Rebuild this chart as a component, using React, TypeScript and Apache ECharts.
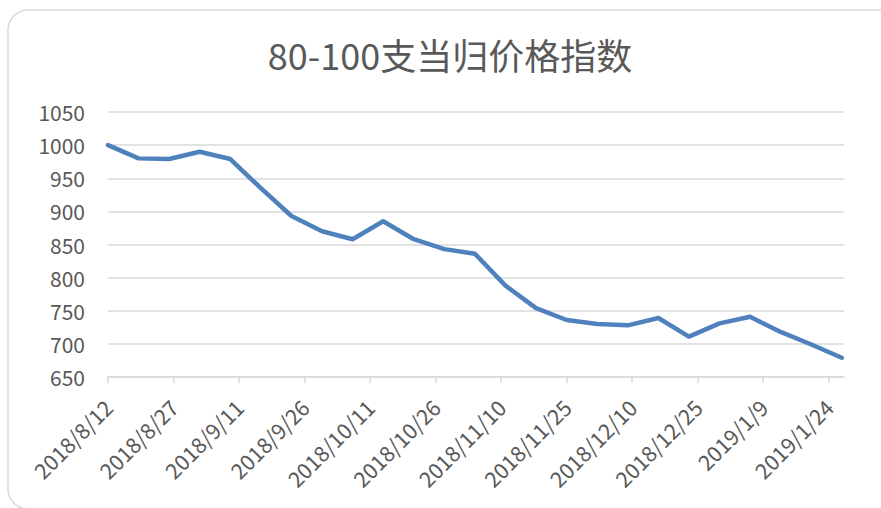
import React, { useEffect, useRef } from "react";
import * as echarts from "echarts";

const TITLE = "80-100支当归价格指数";

// weekly observation dates
const dates = [
  "2018-08-12", "2018-08-19", "2018-08-26", "2018-09-02", "2018-09-09",
  "2018-09-16", "2018-09-23", "2018-09-30", "2018-10-07", "2018-10-14",
  "2018-10-21", "2018-10-28", "2018-11-04", "2018-11-11", "2018-11-18",
  "2018-11-25", "2018-12-02", "2018-12-09", "2018-12-16", "2018-12-23",
  "2018-12-30", "2019-01-06", "2019-01-13", "2019-01-20", "2019-01-27",
];

const values = [
  1000, 980, 979, 990, 979, 935, 893, 870, 858, 885, 858, 843, 836,
  788, 754, 736, 730, 728, 739, 711, 731, 741, 718, 699, 679,
];

// x-axis tick positions (days since 2018/8/12) and their labels
const tickDays = [0, 15, 30, 45, 60, 75, 90, 105, 120, 135, 150, 165];
const tickLabels = [
  "2018/8/12", "2018/8/27", "2018/9/11", "2018/9/26", "2018/10/11", "2018/10/26",
  "2018/11/10", "2018/11/25", "2018/12/10", "2018/12/25", "2019/1/9", "2019/1/24",
];

const DAY = 86400000;
const START = Date.UTC(2018, 7, 12);
const toDays = (s: string) => {
  const [y, m, d] = s.split("-").map(Number);
  return Math.round((Date.UTC(y, m - 1, d) - START) / DAY);
};

const FONT = "'Noto Sans CJK SC', 'Noto Sans', sans-serif";

export default function App() {
  const ref = useRef<HTMLDivElement>(null);
  useEffect(() => {
    if (!ref.current) return;
    const chart = echarts.init(ref.current, undefined, { renderer: "svg" });
    const data = dates.map((d, i) => [toDays(d), values[i]]);
    chart.setOption({
      animation: false,
      backgroundColor: "#ffffff",
      textStyle: { fontFamily: FONT },
      graphic: [
        {
          type: "rect",
          z: -1,
          shape: { x: 8, y: 10, width: 890, height: 499, r: 20 },
          style: { fill: "none", stroke: "#d9d9d9", lineWidth: 1.5 },
        },
        {
          type: "text",
          x: 450,
          y: 54,
          style: {
            text: TITLE,
            fontSize: 36,
            fontFamily: FONT,
            fill: "#595959",
            align: "center",
            verticalAlign: "middle",
          },
        },
      ],
      grid: { left: 108, right: 37, top: 112, bottom: 131, containLabel: false },
      xAxis: {
        type: "value",
        min: 0,
        max: 168.5,
        interval: 15,
        splitLine: { show: false },
        axisLine: { show: true, lineStyle: { color: "#d9d9d9", width: 1.5 } },
        axisTick: {
          show: true,
          length: 6,
          lineStyle: { color: "#d9d9d9", width: 1.5 },
          customValues: tickDays,
        },
        axisLabel: {
          customValues: tickDays,
          rotate: 45,
          margin: 26,
          padding: [14, 0, 0, 0],
          fontSize: 21.5,
          color: "#595959",
          fontFamily: FONT,
          formatter: (v: number) => {
            const i = tickDays.indexOf(Math.round(v));
            return i >= 0 ? tickLabels[i] : "";
          },
        },
      },
      yAxis: {
        type: "value",
        min: 650,
        max: 1050,
        interval: 50,
        axisLine: { show: false },
        axisTick: { show: false },
        splitLine: { lineStyle: { color: "#d9d9d9", width: 1.5 } },
        axisLabel: {
          fontSize: 21,
          color: "#595959",
          margin: 23,
          fontFamily: FONT,
          formatter: (v: number) => String(v),
        },
      },
      series: [
        {
          type: "line",
          data,
          showSymbol: false,
          symbol: "none",
          lineStyle: { color: "#4F81BD", width: 4.5, cap: "round", join: "round" },
        },
      ],
    });
    return () => chart.dispose();
  }, []);
  return (
    <div
      ref={ref}
      style={{ position: "fixed", left: 0, top: 0, width: 881, height: 508 }}
    />
  );
}
